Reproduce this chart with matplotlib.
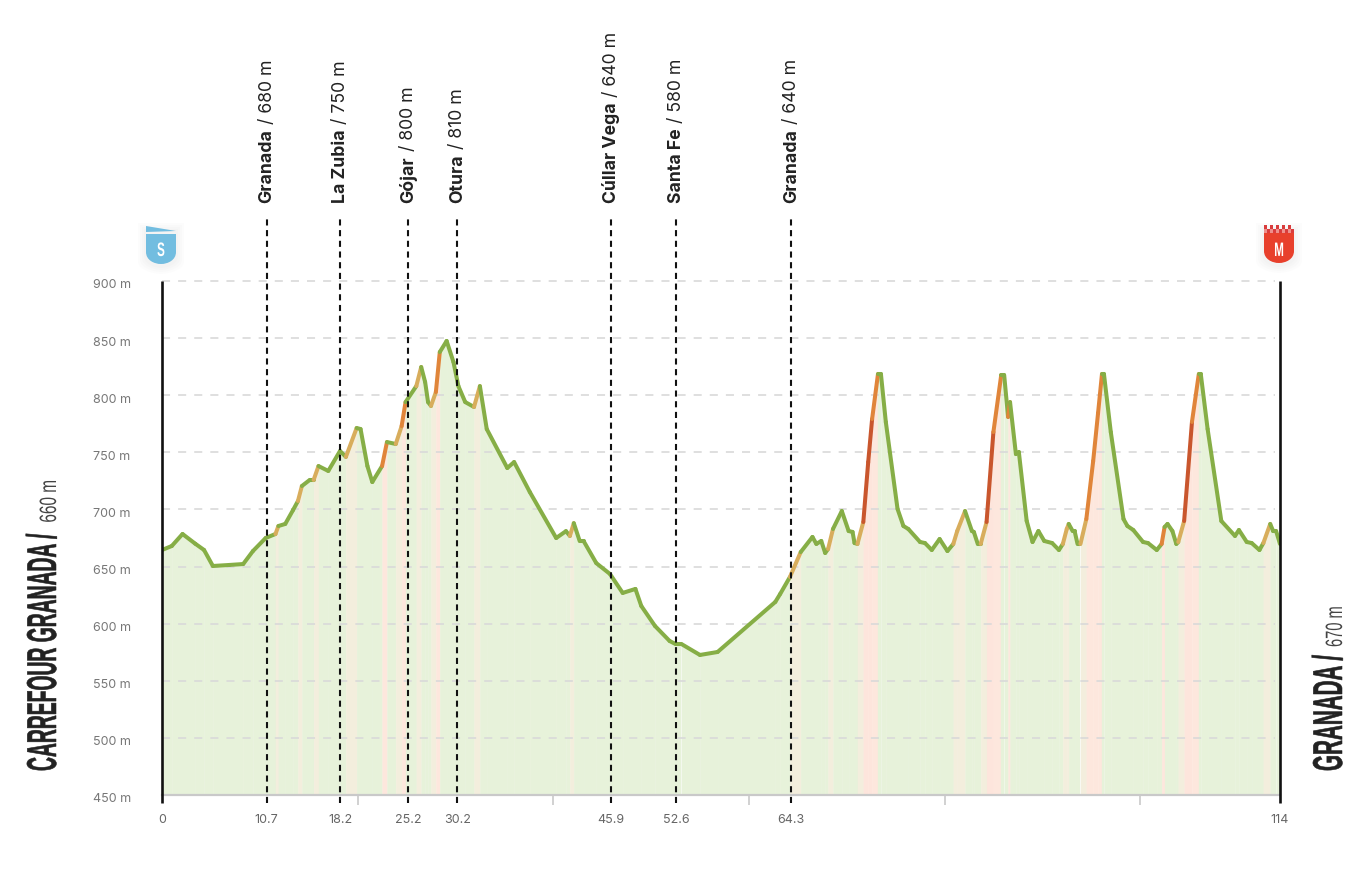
import numpy as np
import matplotlib
matplotlib.use('Agg')
import matplotlib.pyplot as plt
from matplotlib.collections import LineCollection
from matplotlib.patches import PathPatch, Rectangle, Polygon
from matplotlib.patheffects import AbstractPathEffect
from matplotlib.path import Path
from matplotlib.transforms import Affine2D

#Profile of the stage
km = [0.0, 1.0, 2.1, 3.4, 4.3, 5.2, 6.9, 8.3, 9.3, 10.6, 11.6, 11.9, 12.6, 13.4, 13.9, 14.3, 15.1, 15.5, 16.0, 17.0,
      18.2, 18.8, 19.9, 20.3, 21.0, 21.5, 22.5, 23.0, 23.9, 24.5, 24.9, 26.0, 26.5, 26.9, 27.2, 27.5, 28.0, 28.4, 29.1, 29.8,
      30.3, 31.0, 31.9, 32.5, 33.2, 35.3, 36.0, 37.6, 40.3, 41.3, 41.7, 42.1, 42.7, 43.1, 44.4, 45.8, 47.1, 48.4, 49.0, 50.4,
      51.9, 52.5, 53.1, 55.0, 56.8, 62.7, 63.2, 64.2, 65.3, 66.5, 66.9, 67.4, 67.8, 68.1, 68.6, 69.5, 70.2, 70.6, 70.8, 71.1,
      71.7, 72.2, 72.6, 73.2, 73.5, 74.0, 75.2, 75.8, 76.3, 77.5, 78.0, 78.7, 79.5, 80.3, 80.9, 81.3, 82.1, 82.8, 83.0, 83.4,
      83.7, 84.3, 85.0, 85.8, 86.1, 86.5, 86.7, 87.3, 87.6, 88.4, 89.0, 89.6, 90.2, 91.0, 91.7, 92.1, 92.5, 92.7, 93.1, 93.3,
      93.6, 93.9, 94.5, 95.2, 95.7, 96.1, 96.3, 97.0, 98.3, 98.7, 99.3, 100.3, 100.8, 101.7, 102.2, 102.5, 102.8, 103.3, 103.7, 103.9, 104.5,
      105.3, 106.0, 106.2, 106.9, 108.3, 109.7, 110.1, 110.9, 111.4, 112.2, 112.6, 113.3, 113.6, 113.9, 114.3]
elev = [664.5, 668, 678.5, 670, 664.5, 650.5, 651.4, 652.2, 663.6, 675, 678.5, 685.5, 687.3, 699.5, 707.4, 720.5, 725.8, 725.8, 738, 733.7,
        751.2, 746, 771.3, 770.4, 738, 724, 738, 759, 757.3, 773, 794, 808, 824.7, 811.6, 794, 790.6, 802.8, 837.8, 847.5, 829,
        808, 794, 789.7, 808, 770.4, 736.3, 741.5, 715.3, 675, 681, 676.8, 688, 672.4, 672.4, 653, 643.5, 626.9, 630.4, 615.5, 598,
        584.8, 582.2, 582.2, 572.6, 575.2, 619, 626, 640.9, 662.7, 675.9, 669.8, 672.4, 661.9, 665.4, 682.9, 698.6, 681.1, 680.3, 670.6, 669.8,
        689, 741.5, 779.2, 818.6, 818.6, 776.6, 700.4, 685.5, 682.9, 671.5, 670.6, 664.5, 674.1, 663.6, 669.8, 681.1, 698.6, 681.1, 680.3, 669.8,
        669.8, 689, 767.8, 817.7, 817.7, 781, 794, 748.5, 750.3, 690, 671.5, 681.1, 672.4, 670.6, 664.5, 669.8, 682.9, 687.3, 681.1, 681.1,
        669.8, 669.8, 691.6, 742.4, 784.4, 818.6, 818.6, 767.8, 691.6, 685.5, 682, 671.5, 670.6, 664.5, 669.8, 684.6, 687.3, 681.1, 669.8, 671.5, 689.9,
        776.6, 818.6, 818.6, 770.4, 689.9, 676.8, 682, 671.5, 670.6, 664.5, 670.6, 687.3, 681.1, 681.1, 669.8]

#Towns along the route
towns = ['Granada', 'La Zubia', 'Gójar', 'Otura', 'Cúllar Vega', 'Santa Fe', 'Granada']
town_km = [10.7, 18.2, 25.2, 30.2, 45.9, 52.6, 64.3]
town_alt = [680, 750, 800, 810, 640, 580, 640]

y_ticks = [450, 500, 550, 600, 650, 700, 750, 800, 850, 900]
x_minor = [20, 40, 60, 80, 100]
end_km = 114.3

W, H = 1364, 878
plt.rcParams['lines.scale_dashes'] = False
plt.rcParams['font.family'] = ['Inter', 'DejaVu Sans']


class Tall(AbstractPathEffect):
    #stretches the glyphs up from the baseline, stands in for a condensed font
    def __init__(self, sy, stroke=0.0):
        super().__init__()
        self.sy = sy
        self.stroke = stroke

    def draw_path(self, renderer, gc, tpath, affine, rgbFace=None):
        gc0 = renderer.new_gc()
        gc0.copy_properties(gc)
        if self.stroke:
            gc0.set_foreground(rgbFace)
            gc0.set_linewidth(self.stroke)
        renderer.draw_path(gc0, tpath, Affine2D().scale(1, self.sy) + affine, rgbFace)
        gc0.restore()


fig = plt.figure(figsize=(W / 100, H / 100), dpi=100)
ax = fig.add_axes([162 / W, (H - 796) / H, (1280 - 162) / W, (796 - 282) / H])
ax.set_xlim(0, end_km)
ax.set_ylim(450, 900)
for s in ax.spines.values():
    s.set_visible(False)

#Colours depend on the gradient of each piece
x = np.array(km)
y = np.array(elev)
grade = np.diff(y) / (np.diff(x) * 10)
LINE = ['#86ae46', '#d8ad5c', '#e0853a', '#c9562d']
FILL = ['#e7f2da', '#f3eedd', '#fde7dd', '#fde5dc']
level = np.digitize(grade, [1.8, 4.0, 9.0])

for i in range(len(grade)):
    ax.fill_between(x[i:i + 2], 450, y[i:i + 2], color=FILL[level[i]], lw=0.2, zorder=1)

#Grid and baseline
for v in y_ticks[1:]:
    ax.plot([0, 113.8], [v, v], color='#d9d9d9', lw=1.2, ls=(0, (5.8, 5.8)), zorder=2, clip_on=False)
ax.plot([0, end_km], [450, 450], color='#c9c9c9', lw=1.6, zorder=2, clip_on=False)

pts = np.column_stack([x, y])
segs = np.stack([pts[:-1], pts[1:]], axis=1)
lc = LineCollection(segs, colors=[LINE[k] for k in level], linewidths=2.9, capstyle='round', joinstyle='round', zorder=3)
ax.add_collection(lc)

#Town markers and start/finish posts
for k in town_km:
    ax.plot([k, k], [443, 956], color='#111111', lw=1.5, ls=(0, (4.4, 3.3)), zorder=4, clip_on=False)
for k in [0, end_km]:
    ax.plot([k, k], [443, 900], color='#111111', lw=1.9, zorder=5, clip_on=False, solid_capstyle='butt')

ax.set_yticks(y_ticks)
ax.set_yticklabels([f'{v} m' for v in y_ticks], ha='left', color='#777777', fontsize=9)
ax.tick_params(axis='y', length=0, pad=50)
for t in ax.get_yticklabels():
    t.set_transform(t.get_transform() + Affine2D().translate(0, -2))
ax.set_xticks([0] + town_km + [end_km])
ax.set_xticklabels(['0'] + [str(k) for k in town_km] + ['114'], color='#666666', fontsize=9)
ax.set_xticks(x_minor, minor=True)
ax.tick_params(axis='x', which='major', length=0, pad=13)
ax.tick_params(axis='x', which='minor', length=7, width=1.2, color='#c9c9c9')

#Overlay in pixels for labels and badges
ov = fig.add_axes([0, 0, 1, 1], zorder=10)
ov.set_xlim(0, W)
ov.set_ylim(H, 0)
ov.axis('off')
fig.canvas.draw()
rend = fig.canvas.get_renderer()


def two_part(xpos, ybottom, first, second, font1, font2, gap=0, sy1=1.0, sy2=1.0, stroke=0.0):
    t = ov.text(xpos, ybottom, first, rotation=90, rotation_mode='anchor', ha='left', va='baseline', **font1)
    length = t.get_window_extent(rend).height
    t2 = ov.text(xpos, ybottom - length - gap, second, rotation=90, rotation_mode='anchor', ha='left', va='baseline', **font2)
    if sy1 != 1.0:
        t.set_path_effects([Tall(sy1, stroke)])
    if sy2 != 1.0:
        t2.set_path_effects([Tall(sy2)])


for name, k, alt in zip(towns, town_km, town_alt):
    xp = 162 + k / end_km * 1118
    two_part(xp + 5, 203, name, f' / {alt} m',
             dict(fontsize=12.7, fontweight='bold', color='#222222'),
             dict(fontsize=12.7, color='#222222'))

head = dict(family='Liberation Sans', fontweight='bold', color='#222222')
alt_txt = dict(family='Liberation Sans', color='#444444')
two_part(56, 772, 'CARREFOUR GRANADA /', '660 m', dict(head, fontsize=13.9), dict(alt_txt, fontsize=11.05),
         gap=12, sy1=2.16, sy2=1.54, stroke=0.4)
two_part(1342, 772, 'GRANADA /', '670 m', dict(head, fontsize=14.85), dict(alt_txt, fontsize=10.55),
         gap=8, sy1=2.02, sy2=1.61, stroke=0.4)


def shield(x0, x1, y0, y1, color, alpha=1.0, z=3):
    xm = (x0 + x1) / 2
    verts = [(x0, y0), (x1, y0), (x1, y1 - 12), (x1, y1 - 4), (xm + 7, y1), (xm, y1), (xm - 7, y1), (x0, y1 - 4), (x0, y1 - 12), (x0, y0)]
    codes = [Path.MOVETO, Path.LINETO, Path.LINETO, Path.CURVE4, Path.CURVE4, Path.CURVE4, Path.CURVE4, Path.CURVE4, Path.CURVE4, Path.CLOSEPOLY]
    ov.add_patch(PathPatch(Path(verts, codes), fc=color, ec='none', alpha=alpha, zorder=z))


#Soft shadows under the badges
for grow in [8, 6, 4, 2]:
    shield(146 - grow, 176 + grow, 232 - grow, 265 + grow + 2, '#888888', 0.018, 1)
    shield(1264 - grow, 1294 + grow, 232 - grow, 264 + grow + 2, '#888888', 0.018, 1)

shield(146, 176, 235, 265, '#72bde0')
ov.add_patch(Polygon([(146, 227), (176, 232), (146, 233)], fc='#72bde0', ec='none', zorder=3))
ov.text(161, 257, 'S', color='white', fontsize=8.4, fontweight='bold', family='Liberation Sans', ha='center', va='baseline',
        zorder=4, path_effects=[Tall(1.67)])

shield(1264, 1294, 234, 264, '#e8402c')
ov.add_patch(Rectangle((1264, 229.5), 30, 4.5, fc='#ee8f8c', ec='none', zorder=3))
for r, y0 in enumerate([226, 230]):
    for c in range(5):
        ov.add_patch(Rectangle((1264 + c * 6 + (3 if r else 0), y0), 3, 4, fc='#d93c3c', ec='none', zorder=4))
ov.text(1279, 257, 'M', color='white', fontsize=8.4, fontweight='bold', family='Liberation Sans', ha='center', va='baseline',
        zorder=4, path_effects=[Tall(1.67)])

fig.savefig('out.png', dpi=100)
